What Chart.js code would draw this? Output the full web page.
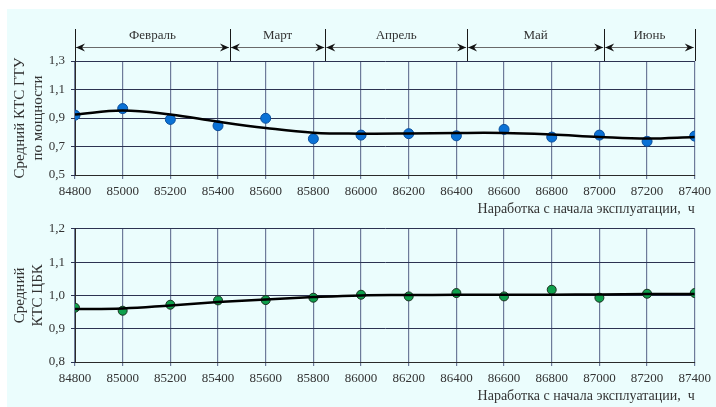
<!DOCTYPE html>
<html>
<head>
<meta charset="utf-8">
<script src="https://cdn.jsdelivr.net/npm/chart.js@4.4.1/dist/chart.umd.min.js"></script>
<style>
  html, body { margin: 0; padding: 0; background: #ffffff; }
  #bg { position: absolute; left: 7px; top: 9px; width: 709px; height: 398px; background: #ebfdfd; }
  canvas { position: absolute; left: 0; }
  #gtu { top: 0; width: 716px; height: 222px; }
  #cbk { top: 215px; width: 716px; height: 192px; }
</style>
</head>
<body>
<div id="bg"></div>
<canvas id="gtu" width="716" height="222"></canvas>
<canvas id="cbk" width="716" height="192"></canvas>
<script>
// Operating hours since commissioning
const hours = [84800, 85000, 85200, 85400, 85600, 85800, 86000, 86200, 86400, 86600, 86800, 87000, 87200, 87400];
const xTicks = [84800, 85000, 85200, 85400, 85600, 85800, 86000, 86200, 86400, 86600, 86800, 87000, 87200, 87400];

// Mean technical condition factor of the gas turbine (power)
const ktsGtu   = [0.920, 0.966, 0.890, 0.846, 0.898, 0.754, 0.780, 0.790, 0.775, 0.820, 0.766, 0.780, 0.736, 0.773];
const gtuTrend = [0.924, 0.952, 0.924, 0.874, 0.830, 0.797, 0.790, 0.791, 0.795, 0.795, 0.784, 0.767, 0.756, 0.767];
const gtuYTicks = [0.5, 0.7, 0.9, 1.1, 1.3];

// Mean technical condition factor of the centrifugal compressor
const ktsCbk   = [0.963, 0.954, 0.972, 0.985, 0.986, 0.993, 1.002, 0.997, 1.007, 0.997, 1.017, 0.993, 1.005, 1.007];
const cbkTrend = [0.959, 0.961, 0.970, 0.980, 0.988, 0.995, 1.000, 1.001, 1.002, 1.002, 1.002, 1.003, 1.004, 1.004];
const cbkYTicks = [0.8, 0.9, 1.0, 1.1, 1.2];

// Calendar months along the hours axis
const months = ['Февраль', 'Март', 'Апрель', 'Май', 'Июнь'];
const monthBounds = [84800, 85450, 85850, 86445, 87020, 87400];

const xTitle = 'Наработка с начала эксплуатации,  ч';
const FONT = '"Liberation Serif", "Times New Roman", serif';
const TEXT = '#333333';
const H_GRID = '#2c3352';
const V_GRID = '#6d7b9a';

const pts = (xs, ys) => xs.map((x, i) => ({ x, y: ys[i] }));
const fmt = v => Number(v).toFixed(1).replace('.', ',');

// Month brackets with double arrows above the plot
const monthBrackets = {
  id: 'monthBrackets',
  afterDraw(chart) {
    const { ctx, chartArea, scales: { x } } = chart;
    const yTop = 29, yArrow = 47;
    ctx.save();
    // boundary ticks
    ctx.strokeStyle = '#1a1a1a';
    ctx.lineWidth = 1;
    monthBounds.forEach(b => {
      const px = Math.round(x.getPixelForValue(b)) + 0.5;
      ctx.beginPath();
      ctx.moveTo(px, yTop);
      ctx.lineTo(px, chartArea.top);
      ctx.stroke();
    });
    // arrows and labels
    for (let i = 0; i < months.length; i++) {
      const a = x.getPixelForValue(monthBounds[i]) + 1;
      const b = x.getPixelForValue(monthBounds[i + 1]) - 1;
      ctx.strokeStyle = '#6a6a6a';
      ctx.beginPath();
      ctx.moveTo(a, yArrow + 0.5);
      ctx.lineTo(b, yArrow + 0.5);
      ctx.stroke();
      ctx.fillStyle = '#111111';
      ctx.beginPath();
      ctx.moveTo(a, yArrow + 0.5);
      ctx.lineTo(a + 9, yArrow - 3.5);
      ctx.lineTo(a + 6, yArrow + 0.5);
      ctx.lineTo(a + 9, yArrow + 4.5);
      ctx.closePath();
      ctx.fill();
      ctx.beginPath();
      ctx.moveTo(b, yArrow + 0.5);
      ctx.lineTo(b - 9, yArrow - 3.5);
      ctx.lineTo(b - 6, yArrow + 0.5);
      ctx.lineTo(b - 9, yArrow + 4.5);
      ctx.closePath();
      ctx.fill();
      ctx.fillStyle = TEXT;
      ctx.font = '13px ' + FONT;
      ctx.textAlign = 'center';
      ctx.textBaseline = 'middle';
      ctx.fillText(months[i], (a + b) / 2, 36);
    }
    ctx.restore();
  }
};

function makeChart(id, values, trend, yTicks, yTitle, color, radius, pad, xHeight, titlePad) {
  return new Chart(document.getElementById(id), {
    type: 'scatter',
    data: {
      datasets: [
        {
          type: 'line',
          data: pts(hours, trend),
          borderColor: '#000000',
          borderWidth: 2.5,
          pointRadius: 0,
          tension: 0.4,
          fill: false,
          order: 0
        },
        {
          data: pts(hours, values),
          backgroundColor: color,
          borderColor: id === 'cbk' ? '#1b3020' : '#0a4e9a',
          borderWidth: 1,
          pointRadius: radius,
          showLine: false,
          order: 1
        }
      ]
    },
    options: {
      responsive: false,
      animation: false,
      layout: { padding: pad },
      plugins: { legend: { display: false }, tooltip: { enabled: false } },
      scales: {
        x: {
          type: 'linear',
          min: hours[0],
          max: hours[hours.length - 1],
          afterBuildTicks: s => { s.ticks = xTicks.map(v => ({ value: v })); },
          afterFit: s => { s.height = xHeight; },
          grid: { color: V_GRID, lineWidth: 1.2, tickLength: 4, tickColor: V_GRID },
          border: { color: '#2a2a2a', width: 1 },
          ticks: { color: TEXT, font: { family: FONT, size: 13 }, padding: 5, maxRotation: 0, autoSkip: false, callback: v => String(v) },
          title: { display: true, text: xTitle, align: 'end', color: TEXT, font: { family: FONT, size: 14 }, padding: { top: 0, bottom: titlePad } }
        },
        y: {
          min: yTicks[0],
          max: yTicks[yTicks.length - 1],
          afterBuildTicks: s => { s.ticks = yTicks.map(v => ({ value: v })); },
          afterFit: s => { s.width = 75; },
          grid: { color: H_GRID, lineWidth: 1, tickLength: 4, tickColor: H_GRID },
          border: { color: '#2a2a2a', width: 1 },
          ticks: { color: TEXT, font: { family: FONT, size: 13 }, padding: 6, callback: fmt },
          title: { display: true, text: yTitle, color: TEXT, font: { family: FONT, size: 15 }, padding: { top: 11, bottom: 0 } }
        }
      }
    },
    plugins: id === 'gtu' ? [monthBrackets] : []
  });
}

makeChart('gtu', ktsGtu, gtuTrend, gtuYTicks, ['Средний КТС ГТУ', 'по мощности'], '#0a72d6', 5, { left: 0, right: 21, top: 61, bottom: 0 }, 47, 4);
makeChart('cbk', ktsCbk, cbkTrend, cbkYTicks, ['Средний', 'КТС ЦБК'], '#0ea04c', 4.5, { left: 0, right: 21, top: 12, bottom: 0 }, 45, 2);
</script>
</body>
</html>
